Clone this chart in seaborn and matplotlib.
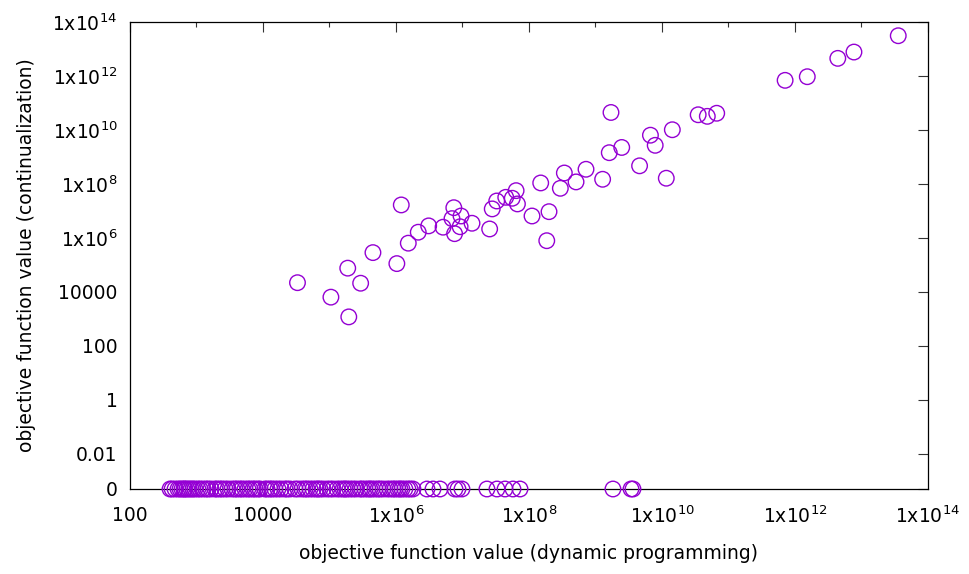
import numpy as np
import pandas as pd
import matplotlib
matplotlib.use("Agg")
import matplotlib.pyplot as plt
import seaborn as sns

# points where both methods give a positive objective value
dp_vals = [3.3e4, 1.05e5, 1.95e5, 1.88e5, 2.94e5, 4.5e5, 1.03e6, 1.2e6, 1.53e6, 2.16e6,
           3.1e6, 5.1e6, 7.4e6, 6.95e6, 9.5e6, 9.2e6, 7.6e6, 1.39e7, 2.56e7, 2.8e7,
           3.27e7, 4.47e7, 6.4e7, 5.6e7, 6.7e7, 1.11e8, 2.0e8, 1.85e8, 1.5e8, 2.96e8,
           3.4e8, 5.1e8, 7.2e8, 1.28e9, 1.61e9, 2.48e9, 1.71e9, 4.6e9, 6.7e9, 7.9e9,
           1.43e10, 1.16e10, 3.5e10, 4.8e10, 6.65e10, 7.1e11, 1.53e12, 4.4e12, 7.7e12, 3.57e13]
cont_vals = [2.2e4, 6.4e3, 1.19e3, 7.6e4, 2.1e4, 2.86e5, 1.12e5, 1.67e7, 6.4e5, 1.63e6,
             2.8e6, 2.5e6, 1.32e7, 5.2e6, 6.5e6, 2.6e6, 1.44e6, 3.5e6, 2.15e6, 1.19e7,
             2.34e7, 3.2e7, 5.65e7, 2.95e7, 1.82e7, 6.5e6, 9.4e6, 7.9e5, 1.09e8, 6.9e7,
             2.55e8, 1.19e8, 3.5e8, 1.49e8, 1.44e9, 2.25e9, 4.45e10, 4.7e8, 6.4e9, 2.7e9,
             1.02e10, 1.63e8, 3.66e10, 3.2e10, 4.16e10, 6.9e11, 9.4e11, 4.5e12, 7.7e12, 3.1e13]

# points where continualization gives 0
dp_zero = [400, 429, 475, 527, 565, 605, 649, 671, 719, 771, 826, 885, 948, 1050, 1130,
           1250, 1390, 1490, 1650, 1900, 2030, 2250, 2420, 2690, 2980, 3420, 3790, 4060,
           4510, 4830, 5360, 5940, 6380, 7080, 7590, 8410, 9020, 1.07e4, 1.15e4, 1.27e4,
           1.36e4, 1.51e4, 1.68e4, 1.87e4, 2.14e4, 2.3e4, 2.55e4, 3.03e4, 3.36e4, 3.85e4,
           4.28e4, 4.59e4, 5.09e4, 5.65e4, 6.27e4, 6.71e4, 7.19e4, 7.98e4, 9.16e4, 1.02e5,
           1.13e5, 1.3e5, 1.44e5, 1.6e5, 1.71e5, 1.83e5, 2.03e5, 2.25e5, 2.5e5, 2.88e5,
           3.08e5, 3.42e5, 3.79e5, 4.06e5, 4.36e5, 4.83e5, 5.36e5, 5.74e5, 6.38e5, 7.33e5,
           8.13e5, 9.02e5, 9.66e5, 1.07e6, 1.15e6, 1.23e6, 1.36e6, 1.51e6, 1.63e6, 1.8e6,
           2.92e6, 3.6e6, 4.59e6, 7.71e6, 8.55e6, 9.82e6, 2.33e7, 3.3e7, 4.36e7, 5.74e7,
           7.33e7, 1.83e9, 3.42e9, 3.66e9]

x_ticks = [1e2, 1e4, 1e6, 1e8, 1e10, 1e12, 1e14]
x_labels = ['100', '10000', r'$\mathregular{1x10^{6}}$', r'$\mathregular{1x10^{8}}$',
            r'$\mathregular{1x10^{10}}$', r'$\mathregular{1x10^{12}}$', r'$\mathregular{1x10^{14}}$']
ZERO_POS = 5e-4  # where the value 0 is shown on the log axis
y_ticks = [ZERO_POS, 1e-2, 1, 1e2, 1e4, 1e6, 1e8, 1e10, 1e12, 1e14]
y_labels = ['0', '0.01', '1', '100', '10000', r'$\mathregular{1x10^{6}}$', r'$\mathregular{1x10^{8}}$',
            r'$\mathregular{1x10^{10}}$', r'$\mathregular{1x10^{12}}$', r'$\mathregular{1x10^{14}}$']

df = pd.DataFrame({
    'dp': dp_vals + dp_zero,
    'cont': cont_vals + [0.0] * len(dp_zero),
})
df['cont_plot'] = df['cont'].where(df['cont'] > 0, ZERO_POS)

sns.set_theme(style='white')
plt.rcParams['font.family'] = ['DejaVu Sans']
plt.rcParams['mathtext.default'] = 'regular'

fig = plt.figure(figsize=(9.7, 5.74), dpi=100)
ax = fig.add_axes([130 / 970, 1 - 489 / 574, 798 / 970, 467 / 574])

sns.scatterplot(data=df, x='dp', y='cont_plot', ax=ax, marker='o', s=125,
                facecolor='none', edgecolor='#9400D3', linewidth=1.0,
                clip_on=False, zorder=3, legend=False)

ax.set_xscale('log')
ax.set_yscale('log')
ax.set_xlim(1e2, 1e14)
ax.set_ylim(ZERO_POS, 1e14)

ax.set_xticks(x_ticks)
ax.set_xticklabels(x_labels)
ax.set_xticks([1e3, 1e5, 1e7, 1e9, 1e11, 1e13], minor=True)
ax.set_xticklabels([], minor=True)
ax.set_yticks(y_ticks)
ax.set_yticklabels(y_labels)
ax.set_yticks([], minor=True)

ax.tick_params(which='major', direction='in', length=7, width=0.8, color='#333333',
               top=True, right=True, labelsize=13.5, labelcolor='black')
ax.tick_params(which='minor', direction='in', length=3.5, width=0.8, color='#333333',
               top=True, right=False, left=False)
ax.tick_params(axis='x', which='major', pad=12)
ax.tick_params(axis='y', which='major', pad=9)

for sp in ax.spines.values():
    sp.set_color('black')
    sp.set_linewidth(0.9)

ax.set_xlabel('objective function value (dynamic programming)', fontsize=13.5, color='black')
ax.set_ylabel('objective function value (continualization)', fontsize=13.5, color='black')
ax.xaxis.set_label_coords(0.5, -0.118)
ax.yaxis.set_label_coords(-0.118, 0.5)

fig.savefig('out.png', dpi=100)
